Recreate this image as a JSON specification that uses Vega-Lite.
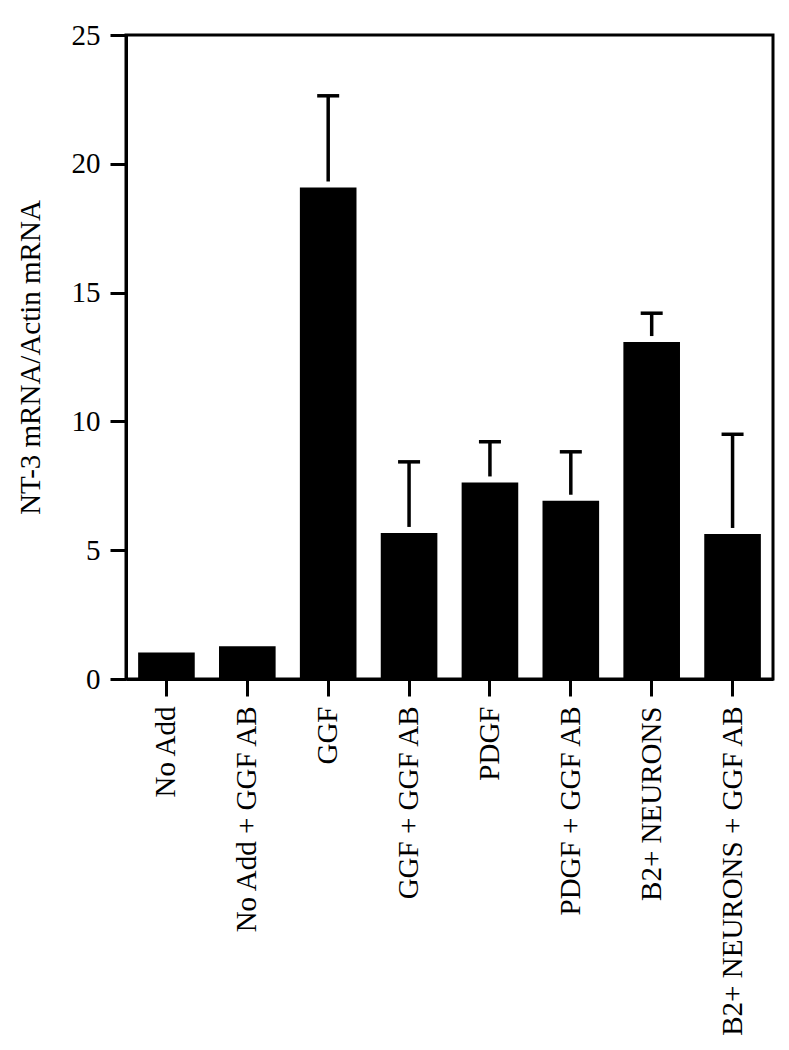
{
  "$schema": "https://vega.github.io/schema/vega-lite/v6.json",
  "autosize": "none",
  "width": 647,
  "height": 644,
  "padding": {"left": 126, "top": 35, "right": 16, "bottom": 371},
  "background": "white",
  "config": {
    "view": {"stroke": "black", "strokeWidth": 3},
    "font": "Liberation Serif",
    "axis": {
      "domainColor": "black", "domainWidth": 3,
      "tickColor": "black", "tickWidth": 3,
      "labelColor": "black", "labelFont": "Liberation Serif", "labelFontSize": 29, "labelLimit": 0,
      "titleColor": "black", "titleFont": "Liberation Serif", "titleFontSize": 29, "titleFontWeight": "normal",
      "grid": false
    }
  },
  "data": {
    "values": [
      {"group": "No Add", "value": 1.03, "upper": null},
      {"group": "No Add + GGF AB", "value": 1.27, "upper": null},
      {"group": "GGF", "value": 19.08, "upper": 22.64},
      {"group": "GGF + GGF AB", "value": 5.67, "upper": 8.43},
      {"group": "PDGF", "value": 7.63, "upper": 9.21},
      {"group": "PDGF + GGF AB", "value": 6.92, "upper": 8.82},
      {"group": "B2+ NEURONS", "value": 13.08, "upper": 14.2},
      {"group": "B2+ NEURONS + GGF AB", "value": 5.63, "upper": 9.5}
    ]
  },
  "encoding": {
    "x": {
      "field": "group", "type": "nominal", "sort": null,
      "scale": {"paddingInner": 0.3, "paddingOuter": 0.15},
      "axis": {"title": null, "labelAngle": -90, "tickSize": 17, "labelPadding": 10}
    }
  },
  "layer": [
    {
      "mark": {"type": "bar", "color": "black"},
      "encoding": {
        "y": {
          "field": "value", "type": "quantitative",
          "scale": {"domain": [0, 25], "nice": false},
          "axis": {"title": "NT-3 mRNA/Actin mRNA", "values": [0, 5, 10, 15, 20, 25], "tickSize": 16, "labelPadding": 10, "titlePadding": 26}
        }
      }
    },
    {
      "transform": [{"filter": "datum.upper != null"}],
      "mark": {"type": "rule", "color": "black", "strokeWidth": 3.5, "y2Offset": -6},
      "encoding": {
        "y": {"field": "upper", "type": "quantitative"},
        "y2": {"field": "value"}
      }
    },
    {
      "transform": [{"filter": "datum.upper != null"}],
      "mark": {"type": "tick", "color": "black", "size": 22, "thickness": 3.5, "opacity": 1},
      "encoding": {
        "y": {"field": "upper", "type": "quantitative"}
      }
    }
  ]
}
